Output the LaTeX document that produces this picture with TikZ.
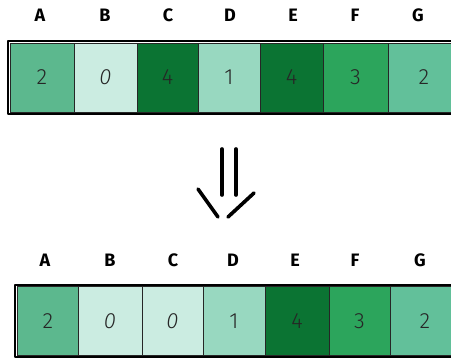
\documentclass[tikz,border=0pt]{standalone}
\usepackage{fontspec}
\setmainfont{Fira Sans}
\newfontfamily\lblfont{Fira Sans}[UprightFont=* Bold]
\newfontfamily\numfont{Fira Sans}[UprightFont=* Light, ItalicFont=* Light Italic]
\definecolor{cA}{HTML}{5CB88E}
\definecolor{cB}{HTML}{CBECE1}
\definecolor{cC}{HTML}{0B7433}
\definecolor{cD}{HTML}{98D8C0}
\definecolor{cF}{HTML}{2CA55C}
\definecolor{cG}{HTML}{62C09A}
\tikzset{
  cell/.style={draw=black!85, line width=0.7pt, inner sep=0pt, font=\numfont\fontsize{22}{24}\selectfont, text=black!85},
  lbl/.style={font=\lblfont\fontsize{18}{20}\selectfont, inner sep=0pt},
  frame/.style={draw=black, line width=2.8pt, line join=round},
  stroke/.style={line width=3.6pt, line cap=round},
}
\begin{document}
\begin{tikzpicture}[x=1pt,y=-1pt]
\useasboundingbox (0,0) rectangle (451,359);
\clip (0,0) rectangle (451,359);
% ---- top row ----
\foreach \n/\x in {A/40,B/105,C/168,D/230,E/293,F/355,G/418}
  \node[lbl] (tl\n) at (\x,15) {\n};
\node[cell, fill=cA, minimum width=64, minimum height=69] (t1) at (42,77.5) {2};
\node[cell, fill=cB, minimum width=63, minimum height=69] (t2) at (105.5,77.5) {\itshape 0};
\node[cell, fill=cC, minimum width=61, minimum height=69] (t3) at (167.5,77.5) {4};
\node[cell, fill=cD, minimum width=62, minimum height=69] (t4) at (229,77.5) {1};
\node[cell, fill=cC, minimum width=63, minimum height=69] (t5) at (291.5,77.5) {4};
\node[cell, fill=cF, minimum width=65, minimum height=69] (t6) at (355.5,77.5) {3};
\node[cell, fill=cG, minimum width=72, minimum height=69] (t7) at (424,77.5) {2};
\draw[frame] (8,41) rectangle (470,114);
% ---- arrow ----
\coordinate (l1) at (222,149); \coordinate (l2) at (222,195);
\coordinate (r1) at (236,149); \coordinate (r2) at (236,195);
\coordinate (h1) at (198,189); \coordinate (h2) at (218,217);
\coordinate (h3) at (228,217); \coordinate (h4) at (254,193);
\draw[stroke] (l1) -- (l2);
\draw[stroke] (r1) -- (r2);
\draw[stroke] (h1) -- (h2);
\draw[stroke] (h3) -- (h4);
% ---- bottom row ----
\foreach \n/\x in {A/45,B/110,C/173,D/233,E/295,F/355,G/420}
  \node[lbl] (bl\n) at (\x,260) {\n};
\node[cell, fill=cA, minimum width=61, minimum height=69] (b1) at (48,321) {2};
\node[cell, fill=cB, minimum width=64, minimum height=69] (b2) at (110,321) {\itshape 0};
\node[cell, fill=cB, minimum width=61, minimum height=69] (b3) at (172.5,321) {\itshape 0};
\node[cell, fill=cD, minimum width=62, minimum height=69] (b4) at (234,321) {1};
\node[cell, fill=cC, minimum width=64, minimum height=69] (b5) at (297,321) {4};
\node[cell, fill=cF, minimum width=61, minimum height=69] (b6) at (359.5,321) {3};
\node[cell, fill=cG, minimum width=70, minimum height=69] (b7) at (425,321) {2};
\draw[frame] (15,285) rectangle (470,357);
\end{tikzpicture}
\end{document}
